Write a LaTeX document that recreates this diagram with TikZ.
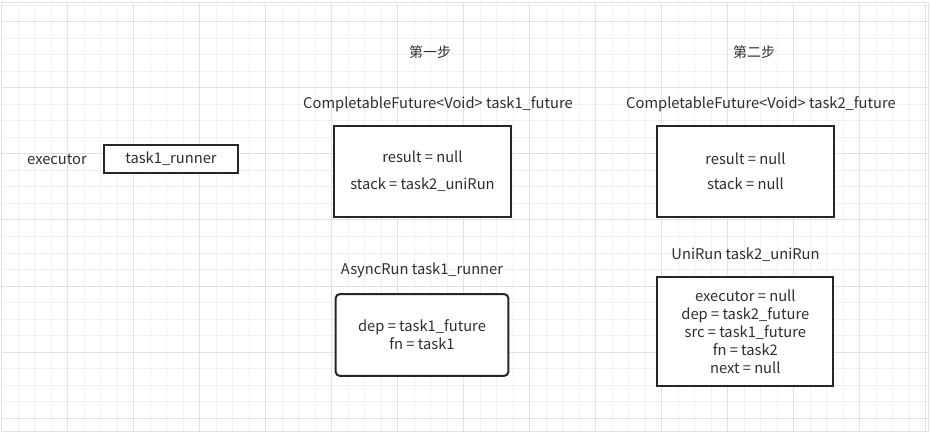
\documentclass[tikz,border=0pt]{standalone}
\usepackage{fontspec}
\setmainfont{Noto Sans CJK SC}
\definecolor{minorgrid}{HTML}{F0F0F0}
\definecolor{majorgrid}{HTML}{E2E2E2}
\definecolor{ink}{HTML}{2E2E2E}
\definecolor{edge}{HTML}{262626}
\tikzset{
  lbl/.style={text=ink, inner sep=0pt, font=\fontsize{14.7}{17.8}\selectfont},
  objbox/.style={draw=edge, line width=2pt, fill=white, text=ink, align=center,
    inner sep=0pt, font=\fontsize{14.7}{17.8}\selectfont},
  gridminor/.style={draw=minorgrid, line width=1pt},
  gridmajor/.style={draw=majorgrid, line width=1pt}
}
\begin{document}
\begin{tikzpicture}[x=1pt,y=-1pt]
\useasboundingbox (0,0) rectangle (930,433);
\fill[white] (0,0) rectangle (930,433);
% grid
\foreach \i in {0,...,56} \draw[gridminor] ({1.7+16.5*\i},2.7) -- ({1.7+16.5*\i},431);
\foreach \j in {0,...,25} \draw[gridminor] (1.7,{5.5+16.5*\j}) -- (928,{5.5+16.5*\j});
\foreach \i in {0,4,...,56} \draw[gridmajor] ({1.7+16.5*\i},2.7) -- ({1.7+16.5*\i},431);
\foreach \j in {1,5,...,25} \draw[gridmajor] (1.7,{5.5+16.5*\j}) -- (928,{5.5+16.5*\j});
\draw[gridmajor] (1.7,2.7) rectangle (928,431);

% headings
\node[lbl, font=\fontsize{14}{17}\selectfont] (step1) at (430,52) {第一步};
\node[lbl, font=\fontsize{14}{17}\selectfont] (step2) at (754,52) {第二步};

% executor
\node[lbl] (exec) at (57,159) {executor};
\node[objbox, minimum width=134pt, minimum height=28.6pt] (runnerref) at (171,159) {task1\_runner};

% task1 future
\node[lbl] (t1ftitle) at (438,104) {CompletableFuture<Void> task1\_future};
\node[objbox, minimum width=177pt, minimum height=91pt] (t1f) at (422.5,171.5) {result = null\\[9pt]stack = task2\_uniRun};

% task2 future
\node[lbl] (t2ftitle) at (761,104) {CompletableFuture<Void> task2\_future};
\node[objbox, minimum width=177pt, minimum height=91pt] (t2f) at (745.5,171.5) {result = null\\[7pt]stack = null};

% AsyncRun
\node[lbl] (artitle) at (422,270.7) {AsyncRun task1\_runner};
\node[objbox, rounded corners=4pt, minimum width=172.6pt, minimum height=81.7pt] (ar) at (422,335) {dep = task1\_future\\fn = task1};

% UniRun
\node[lbl] (urtitle) at (745.5,255) {UniRun task2\_uniRun};
\node[objbox, minimum width=176pt, minimum height=108.7pt] (ur) at (745.3,331.7) {executor = null\\dep = task2\_future\\src = task1\_future\\fn = task2\\next = null};
\end{tikzpicture}
\end{document}
